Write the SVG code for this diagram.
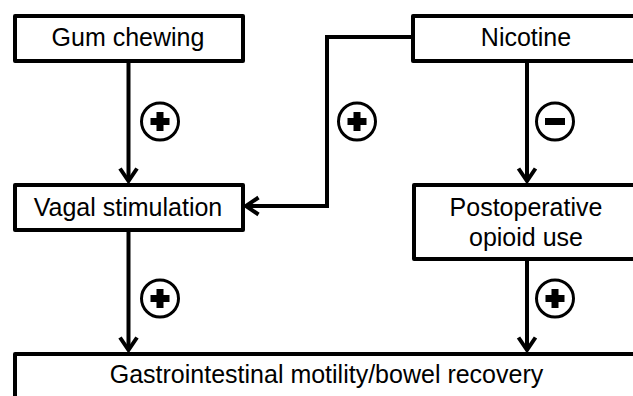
<svg xmlns="http://www.w3.org/2000/svg" width="633" height="396" viewBox="0 0 633 396">
<defs>
<style>
.box{fill:#fff;stroke:#000;stroke-width:4;stroke-linejoin:round}
.t{font-family:"Liberation Sans",Arial,sans-serif;font-size:25px;fill:#000;text-anchor:middle}
.ln{fill:none;stroke:#000;stroke-width:4}
.ah{fill:none;stroke:#000;stroke-width:4;stroke-linejoin:miter}
.sg{fill:#fff;stroke:#000;stroke-width:3}
.bar{fill:#000}
</style>
<g id="plus">
<circle class="sg" cx="0" cy="0" r="18.5"/>
<rect class="bar" x="-9.5" y="-3.5" width="19" height="7"/>
<rect class="bar" x="-3.5" y="-9.5" width="7" height="19"/>
</g>
<g id="minus">
<circle class="sg" cx="0" cy="0" r="18.5"/>
<rect class="bar" x="-10" y="-3.5" width="20" height="7"/>
</g>
</defs>
<rect width="633" height="396" fill="#fff"/>
<g id="connectors">
<line class="ln" x1="128.5" y1="62" x2="128.5" y2="180"/>
<polyline class="ah" points="120,168.5 128.5,181 137,168.5"/>
<line class="ln" x1="527" y1="62" x2="527" y2="180"/>
<polyline class="ah" points="518.5,168.5 527,181 535.5,168.5"/>
<polyline class="ln" points="411,37 327,37 327,206 247,206"/>
<polyline class="ah" points="258.5,197.5 246,206 258.5,214.5"/>
<line class="ln" x1="128.5" y1="231" x2="128.5" y2="349"/>
<polyline class="ah" points="120,337.5 128.5,350 137,337.5"/>
<line class="ln" x1="527" y1="261" x2="527" y2="349"/>
<polyline class="ah" points="518.5,337.5 527,350 535.5,337.5"/>
<use href="#plus" x="160" y="121.5"/>
<use href="#plus" x="357" y="121.5"/>
<use href="#minus" x="555" y="121.5"/>
<use href="#plus" x="160" y="298.5"/>
<use href="#plus" x="555" y="298.5"/>
</g>
<g id="gum">
<rect class="box" x="15" y="16" width="228" height="45"/>
<text class="t" x="128" y="45.5">Gum chewing</text>
</g>
<g id="nicotine">
<rect class="box" x="413" y="16" width="240" height="45"/>
<text class="t" x="526" y="45.5">Nicotine</text>
</g>
<g id="vagal">
<rect class="box" x="15" y="185" width="228" height="45"/>
<text class="t" x="128" y="215.5">Vagal stimulation</text>
</g>
<g id="opioid">
<rect class="box" x="414" y="185" width="240" height="74"/>
<text class="t" x="526" y="215.5">Postoperative</text>
<text class="t" x="526" y="246">opioid use</text>
</g>
<g id="gi">
<rect class="box" x="15" y="354" width="640" height="60"/>
<text class="t" x="326.5" y="383">Gastrointestinal motility/bowel recovery</text>
</g>
</svg>
